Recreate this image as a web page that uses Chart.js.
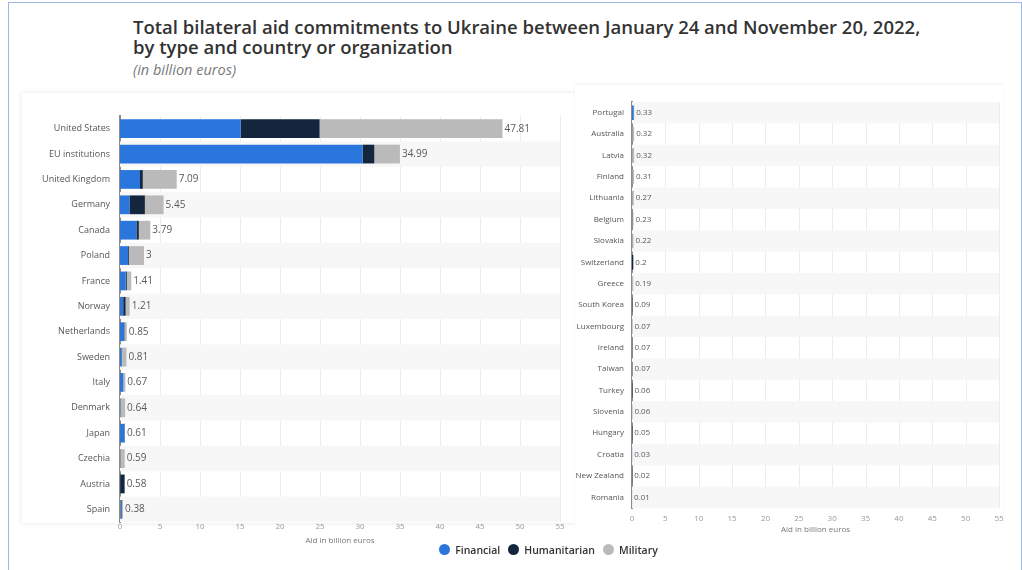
<!DOCTYPE html>
<html>
<head>
<meta charset="utf-8">
<script src="https://cdn.jsdelivr.net/npm/chart.js@4.4.1/dist/chart.umd.min.js"></script>
<style>
  html, body { margin: 0; padding: 0; background: #fff; }
  body { width: 1022px; height: 570px; position: relative; overflow: hidden; font-family: "Open Sans", "Noto Sans", sans-serif; }
  #frame { position: absolute; left: 8px; top: 2px; width: 1012px; height: 600px; border: 1px solid #9db8e2; border-bottom: none; }
  #title { position: absolute; left: 133px; top: 17px; font-size: 18.5px; font-weight: 600; color: #333; line-height: 20px; white-space: nowrap; }
  #subtitle { position: absolute; left: 133px; top: 60px; font-size: 14.5px; font-style: italic; color: #7a7a7a; }
  #cardL { position: absolute; left: 22px; top: 93px; width: 553px; height: 430px; box-shadow: 0 0 5px rgba(0,0,0,0.10); background: #fff; }
  #cardR { position: absolute; left: 575px; top: 85px; width: 428px; height: 438px; box-shadow: 0 -1px 3px rgba(0,0,0,0.06); background: #fff; }
  #cL { position: absolute; left: 22px; top: 93px; }
  #cR { position: absolute; left: 575px; top: 85px; }
  #legend { position: absolute; left: 0; width: 1097px; top: 543px; text-align: center; font-size: 10.5px; font-weight: 600; color: #333; }
  #legend span.item { display: inline-block; margin: 0 4px; }
  #legend span.dot { display: inline-block; width: 11px; height: 11px; border-radius: 50%; vertical-align: -1px; margin-right: 5px; }
</style>
</head>
<body>
<div id="frame"></div>
<div id="title">Total bilateral aid commitments to Ukraine between January 24 and November 20, 2022,<br>by type and country or organization</div>
<div id="subtitle">(in billion euros)</div>
<div id="cardL"></div>
<div id="cardR"></div>
<canvas id="cL" width="553" height="453"></canvas>
<canvas id="cR" width="435" height="450"></canvas>
<div id="legend"></div>
<script>
// ---------- data ----------
const seriesNames = ["Financial", "Humanitarian", "Military"];
const seriesColors = ["#2a76dc", "#13263d", "#bababa"];

const leftCategories = ["United States", "EU institutions", "United Kingdom", "Germany", "Canada", "Poland", "France", "Norway", "Netherlands", "Sweden", "Italy", "Denmark", "Japan", "Czechia", "Austria", "Spain"];
const leftFinancial    = [15.08, 30.32, 2.50, 1.18, 2.05, 1.00, 0.70, 0.40, 0.50, 0.20, 0.40, 0.05, 0.55, 0.00, 0.02, 0.10];
const leftHumanitarian = [9.87, 1.47, 0.35, 1.93, 0.30, 0.10, 0.15, 0.30, 0.05, 0.05, 0.02, 0.04, 0.06, 0.04, 0.56, 0.10];
const leftMilitary     = [22.86, 3.20, 4.24, 2.34, 1.44, 1.90, 0.56, 0.51, 0.30, 0.56, 0.25, 0.55, 0.00, 0.55, 0.00, 0.18];
const leftTotals       = ["47.81", "34.99", "7.09", "5.45", "3.79", "3", "1.41", "1.21", "0.85", "0.81", "0.67", "0.64", "0.61", "0.59", "0.58", "0.38"];

const rightCategories = ["Portugal", "Australia", "Latvia", "Finland", "Lithuania", "Belgium", "Slovakia", "Switzerland", "Greece", "South Korea", "Luxembourg", "Ireland", "Taiwan", "Turkey", "Slovenia", "Hungary", "Croatia", "New Zealand", "Romania"];
const rightFinancial    = [0.25, 0.00, 0.00, 0.00, 0.00, 0.00, 0.00, 0.00, 0.00, 0.00, 0.00, 0.00, 0.00, 0.00, 0.00, 0.00, 0.03, 0.00, 0.00];
const rightHumanitarian = [0.02, 0.02, 0.02, 0.02, 0.02, 0.03, 0.02, 0.20, 0.00, 0.05, 0.02, 0.02, 0.07, 0.06, 0.01, 0.05, 0.00, 0.02, 0.01];
const rightMilitary     = [0.06, 0.30, 0.30, 0.29, 0.25, 0.20, 0.20, 0.00, 0.19, 0.04, 0.05, 0.05, 0.00, 0.00, 0.05, 0.00, 0.00, 0.00, 0.00];
const rightTotals       = ["0.33", "0.32", "0.32", "0.31", "0.27", "0.23", "0.22", "0.2", "0.19", "0.09", "0.07", "0.07", "0.07", "0.06", "0.06", "0.05", "0.03", "0.02", "0.01"];

const xMax = 55;
const xStep = 5;
const xTitle = "Aid in billion euros";

// ---------- plugins ----------
function bandsPlugin(shadeParity) {
  return {
    id: 'bands',
    beforeDatasetsDraw(chart) {
      const { ctx, chartArea } = chart;
      const y = chart.scales.y;
      const n = chart.data.labels.length;
      const step = (chartArea.bottom - chartArea.top) / n;
      ctx.save();
      ctx.fillStyle = '#f7f7f7';
      for (let i = 0; i < n; i++) {
        if (i % 2 !== shadeParity) continue;
        const c = y.getPixelForValue(i);
        ctx.fillRect(chartArea.left, c - step / 2, chartArea.right - chartArea.left, step);
      }
      ctx.restore();
    }
  };
}
function totalsPlugin(totals, fontSize) {
  return {
    id: 'totals',
    afterDatasetsDraw(chart) {
      const { ctx } = chart;
      const last = chart.getDatasetMeta(chart.data.datasets.length - 1);
      ctx.save();
      ctx.font = fontSize + 'px "Open Sans", sans-serif';
      ctx.fillStyle = '#5a5a5a';
      ctx.textBaseline = 'middle';
      ctx.textAlign = 'left';
      last.data.forEach((el, i) => {
        ctx.fillText(totals[i], el.x + 2, el.y);
      });
      ctx.restore();
    }
  };
}
function gridPlugin() {
  return {
    id: 'gridOver',
    beforeDatasetsDraw(chart) {
      const { ctx, chartArea } = chart;
      const x = chart.scales.x;
      ctx.save();
      ctx.strokeStyle = '#ececec';
      ctx.lineWidth = 1;
      for (let v = xStep; v <= xMax; v += xStep) {
        const px = Math.round(x.getPixelForValue(v)) + 0.5;
        ctx.beginPath();
        ctx.moveTo(px, chartArea.top);
        ctx.lineTo(px, chartArea.bottom);
        ctx.stroke();
      }
      ctx.restore();
    }
  };
}

function makeChart(id, cats, fin, hum, mil, totals, opt) {
  const data = [fin, hum, mil];
  return new Chart(document.getElementById(id), {
    type: 'bar',
    data: {
      labels: cats,
      datasets: seriesNames.map((n, i) => ({
        label: n,
        data: data[i],
        backgroundColor: seriesColors[i],
        borderWidth: 0,
        categoryPercentage: 1,
        barPercentage: opt.barPct
      }))
    },
    options: {
      indexAxis: 'y',
      responsive: false,
      animation: false,
      devicePixelRatio: 1,
      layout: { padding: { top: opt.top, right: opt.right, left: 0, bottom: 0 } },
      plugins: { legend: { display: false }, tooltip: { enabled: false } },
      scales: {
        x: {
          stacked: true, min: 0, max: xMax,
          grid: { display: false, drawTicks: false },
          border: { display: false },
          ticks: { stepSize: xStep, color: '#999', font: { size: opt.tickSize, family: '"Open Sans", sans-serif' }, padding: opt.tickPad, maxRotation: 0 },
          title: { display: true, text: xTitle, color: '#777', font: { size: opt.tickSize, family: '"Open Sans", sans-serif' }, padding: { top: opt.titlePad, bottom: 0 } },
          afterFit(s) { s.height = opt.xh; }
        },
        y: {
          stacked: true,
          grid: { display: false, drawTicks: false },
          border: { display: true, color: '#8a8a8a', width: 2 },
          ticks: { color: '#555', font: { size: opt.labelSize, family: '"Open Sans", sans-serif' }, padding: opt.labelPad, autoSkip: false },
          afterFit(s) { s.width = opt.yw; }
        }
      }
    },
    plugins: [gridPlugin(), bandsPlugin(opt.parity), totalsPlugin(totals, opt.valSize)]
  });
}

makeChart('cL', leftCategories, leftFinancial, leftHumanitarian, leftMilitary, leftTotals,
  { barPct: 0.74, top: 23, right: 15, yw: 98, xh: 24, tickSize: 8, tickPad: 0, titlePad: 1, labelSize: 9, labelPad: 10, valSize: 10, parity: 1 });
makeChart('cR', rightCategories, rightFinancial, rightHumanitarian, rightMilitary, rightTotals,
  { barPct: 0.68, top: 17, right: 11, yw: 57, xh: 27, tickSize: 8, tickPad: 6, titlePad: 2, labelSize: 8, labelPad: 8, valSize: 8, parity: 0 });

// legend
const lg = document.getElementById('legend');
seriesNames.forEach((n, i) => {
  const it = document.createElement('span');
  it.className = 'item';
  const d = document.createElement('span');
  d.className = 'dot';
  d.style.background = seriesColors[i];
  it.appendChild(d);
  it.appendChild(document.createTextNode(n));
  lg.appendChild(it);
});
</script>
</body>
</html>
